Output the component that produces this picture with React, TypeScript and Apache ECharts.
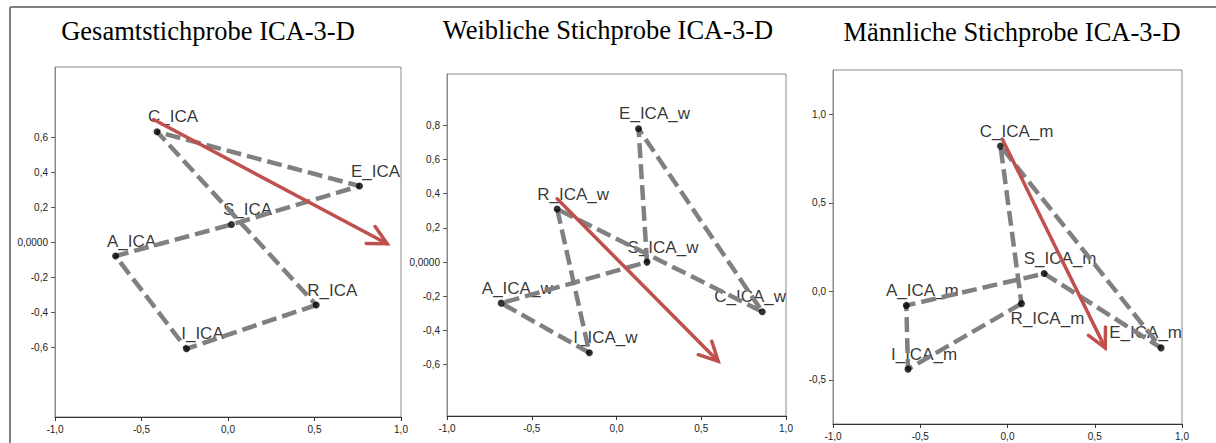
import React, { useEffect, useRef } from "react";
import * as echarts from "echarts";

// Holland hexagon order R-I-A-S-E-C
const dimensions = ["R", "I", "A", "S", "E", "C"];

// Coordinates on the two extracted dimensions
const gesamtX = [0.51, -0.24, -0.65, 0.02, 0.76, -0.41];
const gesamtY = [-0.36, -0.61, -0.08, 0.1, 0.32, 0.63];
const weiblichX = [-0.35, -0.16, -0.68, 0.18, 0.13, 0.86];
const weiblichY = [0.31, -0.53, -0.24, 0.0, 0.78, -0.29];
const maennlichX = [0.08, -0.57, -0.58, 0.21, 0.88, -0.04];
const maennlichY = [-0.07, -0.44, -0.08, 0.1, -0.32, 0.82];

// Direction arrows: [x0, y0, x1, y1]
const gesamtArrow = [-0.43, 0.7, 0.92, -0.01];
const weiblichArrow = [-0.35, 0.37, 0.6, -0.58];
const maennlichArrow = [-0.03, 0.86, 0.56, -0.32];

// Tick values
const xTicks = [-1, -0.5, 0, 0.5, 1];
const gesamtYTicks = [-0.6, -0.4, -0.2, 0, 0.2, 0.4, 0.6];
const weiblichYTicks = [-0.6, -0.4, -0.2, 0, 0.2, 0.4, 0.6, 0.8];
const maennlichYTicks = [-0.5, 0, 0.5, 1.0];

const titles = [
  "Gesamtstichprobe ICA-3-D",
  "Weibliche Stichprobe ICA-3-D",
  "Männliche Stichprobe ICA-3-D",
];
const suffixes = ["_ICA", "_ICA_w", "_ICA_m"];

// Panel layout (pixels) and axis extents
const panels = [
  { xs: gesamtX, ys: gesamtY, arrow: gesamtArrow, yTicks: gesamtYTicks, left: 55, top: 67, width: 346, height: 350, yMin: -1, yMax: 1, zeroLabel: "0,0000", titleX: 208, titleY: 31 },
  { xs: weiblichX, ys: weiblichY, arrow: weiblichArrow, yTicks: weiblichYTicks, left: 447, top: 74, width: 339, height: 342, yMin: -0.9, yMax: 1.1, zeroLabel: "0,0000", titleX: 608, titleY: 30 },
  { xs: maennlichX, ys: maennlichY, arrow: maennlichArrow, yTicks: maennlichYTicks, left: 833, top: 70, width: 349, height: 354, yMin: -0.75, yMax: 1.25, zeroLabel: "0,0", titleX: 1012, titleY: 32 },
];

// Label offset from its point: above-right by default, some placed below
const defaultLabelOffset = [16, -15];
const labelOffsets: Record<string, number[]> = { R_ICA_m: [26, 15] };

const GRAY = "#808080";
const RED = "#C0504D";
const SANS = "'Liberation Sans', Arial, sans-serif";
const SERIF = "'Liberation Serif', 'Times New Roman', serif";

const fmt = (v: number, zero: string) =>
  Math.abs(v) < 1e-9 ? zero : v.toFixed(1).replace(".", ",");

export default function App() {
  const ref = useRef<HTMLDivElement>(null);

  useEffect(() => {
    if (!ref.current) return;
    const chart = echarts.init(ref.current, undefined, { renderer: "svg" });

    const grid: any[] = [];
    const xAxis: any[] = [];
    const yAxis: any[] = [];
    const series: any[] = [];
    const graphic: any[] = [
      { type: "line", shape: { x1: 10, y1: 7, x2: 1216, y2: 7 }, style: { stroke: GRAY, lineWidth: 2 } },
      { type: "line", shape: { x1: 10, y1: 7, x2: 10, y2: 443 }, style: { stroke: GRAY, lineWidth: 2 } },
    ];

    panels.forEach((p, i) => {
      grid.push({
        left: p.left, top: p.top, width: p.width, height: p.height,
        show: true, borderColor: "#8a8a8a", borderWidth: 1, backgroundColor: "#fff",
      });
      xAxis.push({
        gridIndex: i, type: "value", min: -1, max: 1, interval: 0.5,
        axisLine: { show: true, onZero: false, lineStyle: { color: "#333", width: 1 } },
        axisTick: { show: true, length: 4, lineStyle: { color: "#333" }, customValues: xTicks },
        axisLabel: {
          customValues: xTicks, margin: 7, fontSize: 10, fontFamily: SANS, color: "#222",
          formatter: (v: number) => fmt(v, "0,0"),
        },
        splitLine: { show: false },
      });
      yAxis.push({
        gridIndex: i, type: "value", min: p.yMin, max: p.yMax,
        axisLine: { show: true, onZero: false, lineStyle: { color: "#8a8a8a", width: 1 } },
        axisTick: { show: true, length: 4, lineStyle: { color: "#555" }, customValues: p.yTicks },
        axisLabel: {
          customValues: p.yTicks, margin: 7, fontSize: 10, fontFamily: SANS, color: "#222",
          formatter: (v: number) => fmt(v, p.zeroLabel),
        },
        splitLine: { show: false },
      });

      const names = dimensions.map((d) => d + suffixes[i]);
      const points = p.xs.map((x, k) => [x, p.ys[k]]);
      const gridRight = p.left + p.width;

      // Point labels (beneath the connecting lines), kept inside the plot area
      series.push({
        type: "scatter", xAxisIndex: i, yAxisIndex: i, z: 2, silent: true,
        symbol: "circle", symbolSize: 7, itemStyle: { color: "rgba(0,0,0,0)" },
        label: {
          show: true, position: "inside", formatter: "{b}",
          fontSize: 17, fontFamily: SANS, color: "#000",
          textBorderWidth: 0,
        },
        labelLayout: (lp: any) => {
          const off = labelOffsets[names[lp.dataIndex]] || defaultLabelOffset;
          const r = lp.labelRect;
          let dx = off[0];
          const over = r.x + dx + r.width - gridRight;
          if (over > 0) dx -= over;
          return { dx, dy: off[1] };
        },
        data: names.map((n, k) => ({ name: n, value: points[k] })),
      });

      // Hexagon R-I-A-S-E-C-R
      series.push({
        type: "line", xAxisIndex: i, yAxisIndex: i, z: 3, silent: true,
        symbol: "none", clip: false,
        lineStyle: { color: GRAY, width: 4.5, type: [15, 6], cap: "butt" },
        data: [...points, points[0]],
      });

      // Points
      series.push({
        type: "scatter", xAxisIndex: i, yAxisIndex: i, z: 4, silent: true,
        symbol: "circle", symbolSize: 7, itemStyle: { color: "#000" },
        data: points,
      });

      // Direction arrow with open head
      series.push({
        type: "custom", xAxisIndex: i, yAxisIndex: i, z: 5, silent: true, clip: false,
        coordinateSystem: "cartesian2d",
        encode: { x: [0, 2], y: [1, 3] },
        data: [p.arrow],
        renderItem: (_params: any, api: any) => {
          const a = api.coord([api.value(0), api.value(1)]);
          const b = api.coord([api.value(2), api.value(3)]);
          const ang = Math.atan2(b[1] - a[1], b[0] - a[0]);
          const L = 21;
          const w = (27 * Math.PI) / 180;
          const h1 = [b[0] - L * Math.cos(ang - w), b[1] - L * Math.sin(ang - w)];
          const h2 = [b[0] - L * Math.cos(ang + w), b[1] - L * Math.sin(ang + w)];
          return {
            type: "group",
            children: [
              { type: "line", shape: { x1: a[0], y1: a[1], x2: b[0], y2: b[1] }, style: { stroke: RED, lineWidth: 3.5, lineCap: "round" } },
              { type: "polyline", shape: { points: [h1, b, h2] }, style: { stroke: RED, lineWidth: 3.5, lineCap: "round", lineJoin: "miter", fill: null } },
            ],
          };
        },
      });

      graphic.push({
        type: "text", x: p.titleX, y: p.titleY,
        style: { text: titles[i], fontSize: 26.5, fontFamily: SERIF, fill: "#000", align: "center", verticalAlign: "middle" },
      });
    });

    chart.setOption({
      animation: false,
      backgroundColor: "#fff",
      grid, xAxis, yAxis, series, graphic,
    });

    return () => chart.dispose();
  }, []);

  return (
    <div
      ref={ref}
      style={{ position: "absolute", left: 0, top: 0, width: 1216, height: 443 }}
    />
  );
}
